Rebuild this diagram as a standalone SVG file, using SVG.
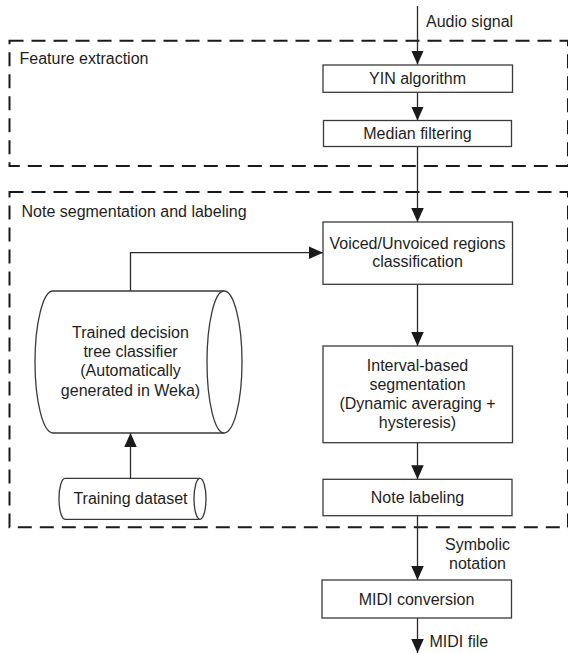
<svg xmlns="http://www.w3.org/2000/svg" width="568" height="653" viewBox="0 0 568 653">
<style>
  .box { fill: #ffffff; stroke: #3a3a3a; stroke-width: 1.3; }
  .grp { fill: none; stroke: #1a1a1a; stroke-width: 2; stroke-dasharray: 14 8; }
  .con { fill: none; stroke: #2a2a2a; stroke-width: 1.3; }
  text { font-family: "Liberation Sans", Arial, sans-serif; font-size: 16px; fill: #1e1e1e; }
  .c { text-anchor: middle; }
</style>
<defs>
  <marker id="arr" markerUnits="userSpaceOnUse" markerWidth="15" markerHeight="13" refX="14" refY="6.25" orient="auto">
    <path d="M0,0 L14,6.25 L0,12.5 z" fill="#1a1a1a"/>
  </marker>
</defs>

<g id="group-feature-extraction">
  <rect class="grp" x="9.5" y="40.7" width="558.5" height="125.3"/>
  <text x="19.5" y="64">Feature extraction</text>
</g>
<g id="group-note-segmentation">
  <rect class="grp" x="9.5" y="192" width="558.5" height="335.3"/>
  <text x="21.5" y="216.5">Note segmentation and labeling</text>
</g>

<g id="connectors">
  <line class="con" x1="417.5" y1="6" x2="417.5" y2="64.5" marker-end="url(#arr)"/>
  <line class="con" x1="417.5" y1="92.3" x2="417.5" y2="120.5" marker-end="url(#arr)"/>
  <line class="con" x1="417.5" y1="146.5" x2="417.5" y2="222" marker-end="url(#arr)"/>
  <line class="con" x1="417.5" y1="284.3" x2="417.5" y2="346" marker-end="url(#arr)"/>
  <line class="con" x1="417.5" y1="442.7" x2="417.5" y2="479.3" marker-end="url(#arr)"/>
  <line class="con" x1="417.5" y1="515.7" x2="417.5" y2="580" marker-end="url(#arr)"/>
  <line class="con" x1="417.5" y1="618" x2="417.5" y2="653" marker-end="url(#arr)"/>
  <polyline class="con" points="130.5,291 130.5,252.7 323,252.7" marker-end="url(#arr)"/>
  <line class="con" x1="130.5" y1="478.3" x2="130.5" y2="433" marker-end="url(#arr)"/>
  <text x="426" y="26.5">Audio signal</text>
  <text class="c" x="477.5" y="550">Symbolic</text>
  <text class="c" x="477.5" y="568.5">notation</text>
  <text x="429.5" y="647">MIDI file</text>
</g>

<g id="yin">
  <rect class="box" x="323" y="65" width="189.5" height="27.3"/>
  <text class="c" x="417.5" y="84.3">YIN algorithm</text>
</g>
<g id="median">
  <rect class="box" x="323.5" y="120.5" width="188" height="26"/>
  <text class="c" x="417.5" y="139.3">Median filtering</text>
</g>
<g id="voiced">
  <rect class="box" x="323" y="222" width="189.5" height="62.3"/>
  <text class="c" x="417.5" y="249">Voiced/Unvoiced regions</text>
  <text class="c" x="417.5" y="267.3">classification</text>
</g>
<g id="interval">
  <rect class="box" x="323" y="346" width="189.5" height="96.7"/>
  <text class="c" x="417.5" y="371.3">Interval-based</text>
  <text class="c" x="417.5" y="390">segmentation</text>
  <text class="c" x="417.5" y="409">(Dynamic averaging +</text>
  <text class="c" x="417.5" y="428.3">hysteresis)</text>
</g>
<g id="note-labeling">
  <rect class="box" x="323" y="479.3" width="189" height="36.4"/>
  <text class="c" x="417.5" y="503.3">Note labeling</text>
</g>
<g id="midi-conversion">
  <rect class="box" x="322" y="580" width="189.5" height="38"/>
  <text class="c" x="416.5" y="604.5">MIDI conversion</text>
</g>

<g id="classifier">
  <path class="box" d="M53,291 L224,291 A18,71 0 0 1 224,433 L53,433 A18,71 0 0 1 53,291 Z"/>
  <path class="box" d="M224,291 A17,71 0 0 0 224,433"/>
  <text class="c" x="130.5" y="338.3">Trained decision</text>
  <text class="c" x="130.5" y="357.3">tree classifier</text>
  <text class="c" x="130.5" y="376.3">(Automatically</text>
  <text class="c" x="130.5" y="395.5">generated in Weka)</text>
</g>
<g id="training-dataset">
  <path class="box" d="M65,478.3 L200,478.3 A6,20.5 0 0 1 200,519.3 L65,519.3 A6,20.5 0 0 1 65,478.3 Z"/>
  <path class="box" d="M200,478.3 A6,20.5 0 0 0 200,519.3"/>
  <text class="c" x="130.5" y="504">Training dataset</text>
</g>
</svg>
